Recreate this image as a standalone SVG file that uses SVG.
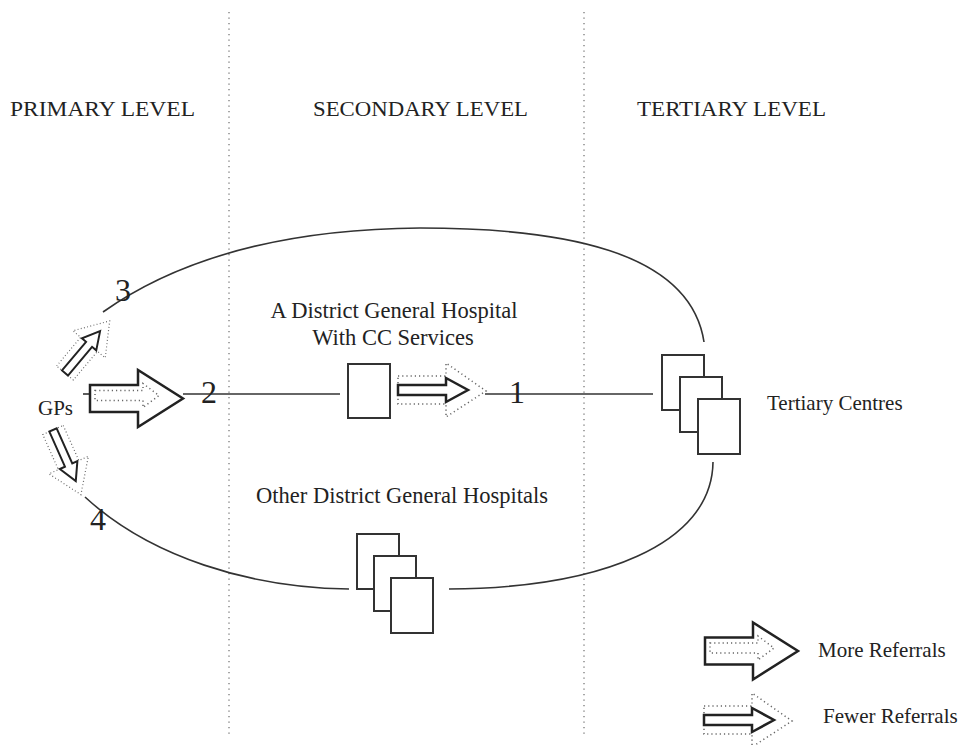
<svg xmlns="http://www.w3.org/2000/svg" width="970" height="745" viewBox="0 0 970 745">
<style>
text{font-family:"Liberation Serif","Times New Roman",serif;fill:#222;}
.lbl{font-size:21px}
.mid{font-size:22.5px}
.num{font-size:32px}
.div{stroke:#777;stroke-width:1.3;stroke-dasharray:1.3 4.2;fill:none}
.ln{stroke:#333;stroke-width:1.6;fill:none}
.box{fill:#fff;stroke:#333;stroke-width:2}
.solid{fill:#fff;stroke:#222;stroke-width:2.5;stroke-linejoin:miter}
.dots{fill:none;stroke:#666;stroke-width:1.5;stroke-dasharray:1.2 3}
</style>
<defs>
<g id="fewer">
<path class="dots" d="M0,-14 H48 V-27 L88,1 L48,27 V14 H0 Z"/>
<path class="solid" d="M0,-5 H48 V-12 L70,0 L48,12 V5 H0 Z"/>
</g>
<g id="more">
<path class="solid" d="M0,-13.5 H48 V-28.5 L93,0 L48,28.5 V13.5 H0 Z"/>
<path class="dots" d="M5,-8 H53 V-15 L69,-3 L53,9 V2 H5 Z"/>
</g>
</defs>
<rect width="970" height="745" fill="#fff"/>
<g id="dividers">
<line class="div" x1="229" y1="12" x2="229" y2="738"/>
<line class="div" x1="584" y1="12" x2="584" y2="738"/>
</g>
<g id="levels" class="lbl">
<text x="10" y="116" textLength="185" lengthAdjust="spacingAndGlyphs">PRIMARY LEVEL</text>
<text x="313" y="116" textLength="215" lengthAdjust="spacingAndGlyphs">SECONDARY LEVEL</text>
<text x="637" y="116" textLength="189" lengthAdjust="spacingAndGlyphs">TERTIARY LEVEL</text>
</g>
<g id="connectors">
<path class="ln" d="M103,312 C185,254 295,229 420,228 C560,228 690,250 704,342"/>
<path class="ln" d="M85,497 C150,557 250,588 349,589"/>
<path class="ln" d="M449,589 C600,588 712,545 713,462"/>
<path class="ln" d="M83,394 H90"/>
<path class="ln" d="M183,394 H340"/>
<path class="ln" d="M485,394 H653"/>
<use href="#more" transform="translate(90,398.5)"/>
<use href="#fewer" transform="translate(398,390)"/>
<use href="#fewer" transform="translate(65,373) rotate(-50) scale(0.78)"/>
<use href="#fewer" transform="translate(53,430) rotate(66) scale(0.8)"/>
<text class="num" x="201" y="403">2</text>
<text class="num" x="509" y="403">1</text>
<text class="num" x="115" y="301">3</text>
<text class="num" x="90" y="530">4</text>
</g>
<g id="gps">
<text class="lbl" x="38" y="415">GPs</text>
</g>
<g id="dgh-cc">
<text class="mid" x="394" y="318" text-anchor="middle">A District General Hospital</text>
<text class="mid" x="393" y="345" text-anchor="middle">With CC Services</text>
<rect class="box" x="348" y="364" width="42" height="54"/>
</g>
<g id="tertiary">
<rect class="box" x="662" y="355" width="42" height="55"/>
<rect class="box" x="680" y="377" width="42" height="55"/>
<rect class="box" x="698" y="399" width="42" height="55"/>
<text class="lbl" x="767" y="410">Tertiary Centres</text>
</g>
<g id="other-dgh">
<text class="mid" x="402" y="503" text-anchor="middle">Other District General Hospitals</text>
<rect class="box" x="357" y="534" width="42" height="55"/>
<rect class="box" x="374" y="556" width="42" height="55"/>
<rect class="box" x="391" y="578" width="42" height="55"/>
</g>
<g id="legend">
<use href="#more" transform="translate(705,651)"/>
<text class="lbl" x="818" y="657">More Referrals</text>
<use href="#fewer" transform="translate(704,720)"/>
<text class="lbl" x="823" y="723">Fewer Referrals</text>
</g>
</svg>
